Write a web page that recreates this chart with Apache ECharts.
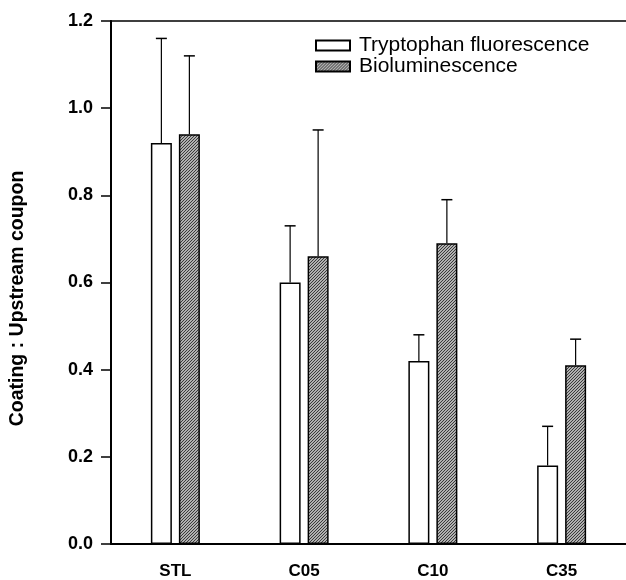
<!DOCTYPE html>
<html>
<head>
<meta charset="utf-8">
<title>Coating : Upstream coupon</title>
<script src="https://cdn.jsdelivr.net/npm/echarts@6/dist/echarts.min.js"></script>
<style>
  html, body { margin: 0; padding: 0; background: #fff; }
  #chart { width: 626px; height: 580px; }
</style>
</head>
<body>
<div id="chart"></div>
<script>
// data
const categories = ['STL', 'C05', 'C10', 'C35'];
const tryptophan = [0.92, 0.60, 0.42, 0.18];
const tryptophanErr = [1.16, 0.73, 0.48, 0.27];   // top of error bar
const biolum = [0.94, 0.66, 0.69, 0.41];
const biolumErr = [1.12, 0.95, 0.79, 0.47];
const yTicks = [0, 0.2, 0.4, 0.6, 0.8, 1.0, 1.2];

const FONT = '"Liberation Sans", Arial, Helvetica, sans-serif';
const BAR_W = 21;
const BAR_GAP = 7;

// diagonal hatching for the bioluminescence bars
const makeHatch = () => {
  const s = 3;
  const c = document.createElement('canvas');
  c.width = s;
  c.height = s;
  const ctx = c.getContext('2d');
  ctx.fillStyle = '#b0b0b0';
  ctx.fillRect(0, 0, s, s);
  ctx.strokeStyle = '#2e2e2e';
  ctx.lineWidth = 0.9;
  ctx.beginPath();
  ctx.moveTo(0, s); ctx.lineTo(s, 0);
  ctx.moveTo(-1, 1); ctx.lineTo(1, -1);
  ctx.moveTo(s - 1, s + 1); ctx.lineTo(s + 1, s - 1);
  ctx.stroke();
  return c;
};

const errSeries = (name, vals, tops, offset) => ({
  type: 'custom',
  name: name + ' err',
  silent: true,
  z: 5,
  data: vals.map((v, i) => [i, v, tops[i]]),
  renderItem: (params, api) => {
    const base = api.coord([api.value(0), api.value(1)]);
    const top = api.coord([api.value(0), api.value(2)]);
    const x = base[0] + offset;
    return {
      type: 'group',
      children: [
        { type: 'line', shape: { x1: x, y1: base[1], x2: x, y2: top[1] }, style: { stroke: '#000', lineWidth: 1.2 } },
        { type: 'line', shape: { x1: x - 5.5, y1: top[1], x2: x + 5.5, y2: top[1] }, style: { stroke: '#000', lineWidth: 1.5 } }
      ]
    };
  }
});

const chart = echarts.init(document.getElementById('chart'));
const half = (BAR_W + BAR_GAP) / 2;

const option = {
  animation: false,
  backgroundColor: '#fff',
  grid: { left: 110, top: 21, width: 518, height: 526 },
  legend: {
    orient: 'vertical',
    left: 310,
    top: 30,
    icon: 'rect',
    itemWidth: 34,
    itemHeight: 10,
    itemGap: 0,
    data: ['Tryptophan fluorescence', 'Bioluminescence'],
    textStyle: { fontFamily: FONT, fontSize: 21, lineHeight: 20, color: '#000', padding: [0, 0, 0, 4] }
  },
  xAxis: [
    {
      type: 'category',
      data: categories,
      axisLine: { lineStyle: { color: '#000', width: 2 } },
      axisTick: { show: false },
      axisLabel: { margin: 19, color: '#000', fontFamily: FONT, fontWeight: 'bold', fontSize: 17 }
    },
    {
      // top frame line only
      type: 'category',
      position: 'top',
      data: categories,
      axisLine: { show: true, lineStyle: { color: '#000', width: 1.5 } },
      axisTick: { show: false },
      axisLabel: { show: false }
    }
  ],
  yAxis: {
    type: 'value',
    min: yTicks[0],
    max: yTicks[yTicks.length - 1],
    interval: 0.2,
    name: 'Coating : Upstream coupon',
    nameLocation: 'middle',
    nameRotate: 90,
    nameGap: 83,
    nameTextStyle: { fontFamily: FONT, fontWeight: 'bold', fontSize: 19.5, color: '#000', padding: [0, 32, 0, 0] },
    axisLine: { show: true, lineStyle: { color: '#000', width: 2 } },
    axisTick: { show: true, length: 10, lineStyle: { color: '#000', width: 1.5 } },
    splitLine: { show: false },
    axisLabel: {
      margin: 18,
      color: '#000',
      fontFamily: FONT,
      fontWeight: 'bold',
      fontSize: 18,
      formatter: v => v.toFixed(1)
    }
  },
  series: [
    {
      type: 'bar',
      name: 'Tryptophan fluorescence',
      data: tryptophan,
      barWidth: BAR_W,
      barGap: (BAR_GAP / BAR_W * 100) + '%',
      itemStyle: { color: '#fff', borderColor: '#000', borderWidth: 1.5 }
    },
    {
      type: 'bar',
      name: 'Bioluminescence',
      data: biolum,
      barWidth: BAR_W,
      itemStyle: { color: { image: makeHatch(), repeat: 'repeat' }, borderColor: '#000', borderWidth: 1.5 }
    },
    errSeries('Tryptophan fluorescence', tryptophan, tryptophanErr, -half),
    errSeries('Bioluminescence', biolum, biolumErr, half)
  ]
};

chart.setOption(option);
</script>
</body>
</html>
